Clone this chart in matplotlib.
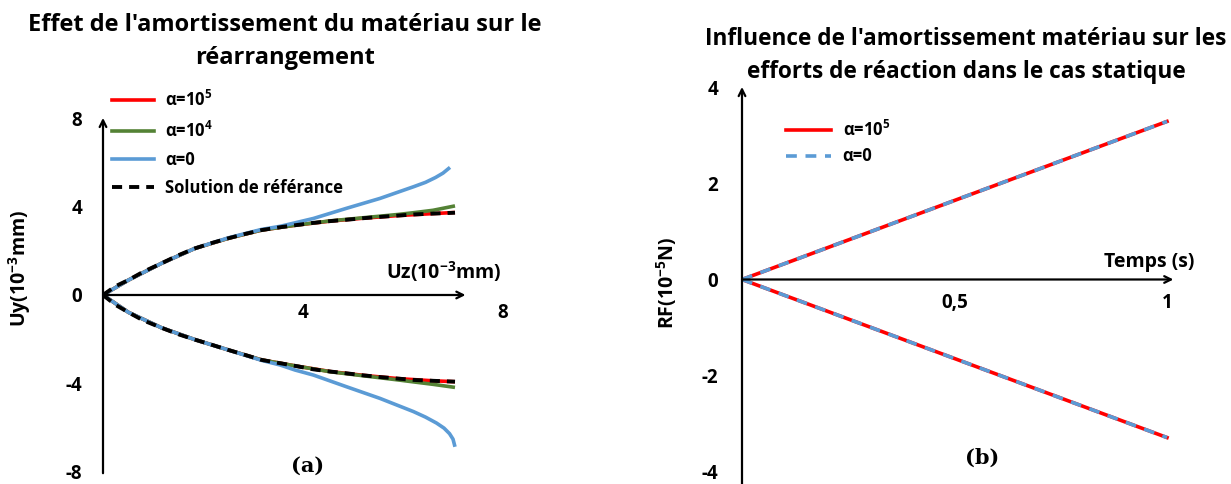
import numpy as np
import matplotlib
matplotlib.use("Agg")
import matplotlib.pyplot as plt
from matplotlib.lines import Line2D

plt.rcParams['font.family'] = ['Open Sans', 'DejaVu Sans']
plt.rcParams['font.weight'] = 'bold'
plt.rcParams['mathtext.default'] = 'regular'

RED = '#FF0000'
GREEN = '#548235'
BLUE = '#5B9BD5'

# --- (a) rearrangement: Uy vs Uz (10^-3 mm) ---
uz_ref = [0, 0.25, 0.51, 0.8, 1.17, 1.5, 1.84, 2.2, 2.51, 2.85, 3.17, 3.54, 3.84, 4.21, 4.55, 4.87, 5.2, 5.54, 5.9, 6.21, 6.6, 7.04]
uy_ref_up = [0, 0.4, 0.68, 1.05, 1.44, 1.8, 2.12, 2.38, 2.58, 2.78, 2.95, 3.08, 3.17, 3.28, 3.36, 3.42, 3.49, 3.55, 3.61, 3.66, 3.7, 3.74]
uy_ref_lo = [0, -0.45, -0.79, -1.15, -1.49, -1.78, -2.03, -2.28, -2.5, -2.73, -2.95, -3.1, -3.22, -3.38, -3.48, -3.56, -3.65, -3.73, -3.8, -3.86, -3.9, -3.94]

uz_e4 = [0, 0.51, 1.17, 1.84, 2.51, 3.17, 3.84, 4.55, 5.2, 5.9, 6.21, 6.6, 7.04]
uy_e4_up = [0, 0.68, 1.44, 2.12, 2.58, 2.95, 3.17, 3.37, 3.51, 3.66, 3.74, 3.85, 4.05]
uy_e4_lo = [0, -0.79, -1.49, -2.03, -2.5, -2.95, -3.22, -3.49, -3.67, -3.86, -3.95, -4.06, -4.2]

uz_e5 = [0, 0.51, 1.17, 1.84, 2.51, 3.17, 3.84, 4.55, 5.2, 5.9, 6.6, 7.04]
uy_e5_up = [0, 0.68, 1.44, 2.12, 2.58, 2.95, 3.17, 3.36, 3.49, 3.61, 3.7, 3.75]
uy_e5_lo = [0, -0.79, -1.49, -2.03, -2.5, -2.95, -3.22, -3.48, -3.65, -3.8, -3.9, -3.94]

uz_e0_up = [0, 0.51, 1.17, 1.84, 2.51, 3.17, 3.54, 3.84, 4.21, 4.87, 5.54, 6.21, 6.45, 6.65, 6.8, 6.94]
uy_e0_up = [0, 0.68, 1.44, 2.12, 2.6, 2.98, 3.12, 3.28, 3.48, 3.94, 4.39, 4.92, 5.12, 5.34, 5.54, 5.8]
uz_e0_lo = [0, 0.51, 1.17, 1.84, 2.51, 3.17, 3.54, 3.84, 4.21, 4.87, 5.54, 6.21, 6.45, 6.67, 6.82, 6.93, 7.0, 7.04]
uy_e0_lo = [0, -0.79, -1.49, -2.03, -2.5, -2.97, -3.18, -3.41, -3.64, -4.17, -4.7, -5.3, -5.55, -5.82, -6.05, -6.3, -6.55, -6.9]

# --- (b) reaction forces: RF (10^-5 N) vs time (s) ---
t = [0, 1.0]
rf_up = [0, 3.3]
rf_lo = [0, -3.3]

fig = plt.figure(figsize=(12.31, 4.84), dpi=100)

# ---------------- panel (a) ----------------
ax1 = fig.add_axes([103/1231, 0.0223, 415/1231, 0.7364])
ax1.set_xlim(0, 8.3)
ax1.set_ylim(-8.1, 8.1)
for s in ax1.spines.values():
    s.set_color('none')
ax1.spines['bottom'].set_position(('data', 0))
ax1.spines['left'].set_position(('data', 0))
arrow = dict(arrowstyle='->', color='black', lw=1.6, shrinkA=0, shrinkB=0, mutation_scale=12)
ax1.annotate('', xy=(7.25, 0), xytext=(0, 0), arrowprops=arrow)
ax1.annotate('', xy=(0, 8.05), xytext=(0, -8.1), arrowprops=arrow, annotation_clip=False)

kw = dict(lw=2.6, solid_capstyle='butt')
ax1.plot(uz_e5, uy_e5_up, color=RED, **kw)
ax1.plot(uz_e5, uy_e5_lo, color=RED, **kw)
ax1.plot(uz_e4, uy_e4_up, color=GREEN, **kw)
ax1.plot(uz_e4, uy_e4_lo, color=GREEN, **kw)
ax1.plot(uz_e0_up, uy_e0_up, color=BLUE, **kw)
ax1.plot(uz_e0_lo, uy_e0_lo, color=BLUE, **kw)
ax1.plot(uz_ref, uy_ref_up, color='black', lw=2.8, dashes=(2.6, 1.8))
ax1.plot(uz_ref, uy_ref_lo, color='black', lw=2.8, dashes=(2.6, 1.8))

ax1.set_xticks([4, 8])
ax1.set_xticklabels(['4', '8'])
ax1.set_yticks([-8, -4, 0, 4, 8])
ax1.set_yticklabels(['-8', '-4', '0', '4', '8'])
ax1.tick_params(axis='both', length=0, labelsize=13.5)
ax1.tick_params(axis='y', pad=15)
ax1.tick_params(axis='x', pad=6)

handles1 = [Line2D([], [], color=RED, lw=2.6),
            Line2D([], [], color=GREEN, lw=2.6),
            Line2D([], [], color=BLUE, lw=2.6),
            Line2D([], [], color='black', lw=2.8, dashes=(2.6, 1.8))]
labels1 = ['α=10$^{5}$', 'α=10$^{4}$', 'α=0', 'Solution de référance']
ax1.legend(handles1, labels1, loc='upper left', bbox_to_anchor=(9/415, 1.075),
           frameon=False, fontsize=12, handlelength=2.5, handletextpad=0.7,
           labelspacing=0.62, borderpad=0, borderaxespad=0)

fig.text(444/1231, 1 - 272/484, 'Uz(10$^{-3}$mm)', ha='center', va='center', fontsize=14)
fig.text(20/1231, 1 - 268/484, 'Uy(10$^{-3}$mm)', ha='center', va='center', fontsize=14, rotation=90)
fig.text(285/1231, 1 - 25/484, "Effet de l'amortissement du matériau sur le", ha='center', va='center', fontsize=17)
fig.text(285/1231, 1 - 58/484, 'réarrangement', ha='center', va='center', fontsize=17)
fig.text(308/1231, 1 - 466/484, '(a)', ha='center', va='center', fontsize=15,
         family=['DejaVu Serif'])

# ---------------- panel (b) ----------------
ax2 = fig.add_axes([742/1231, 0.0, 450.5/1231, 398/484])
ax2.set_xlim(0, 1.06)
ax2.set_ylim(-4.27, 4.04)
for s in ax2.spines.values():
    s.set_color('none')
ax2.spines['bottom'].set_position(('data', 0))
ax2.spines['left'].set_position(('data', 0))
ax2.annotate('', xy=(1.015, 0), xytext=(0, 0), arrowprops=arrow)
ax2.annotate('', xy=(0, 4.02), xytext=(0, -4.27), arrowprops=arrow, annotation_clip=False)

ax2.plot(t, rf_up, color=RED, lw=2.6)
ax2.plot(t, rf_lo, color=RED, lw=2.6)
ax2.plot(t, rf_up, color=BLUE, lw=2.6, dashes=(3.0, 2.4))
ax2.plot(t, rf_lo, color=BLUE, lw=2.6, dashes=(3.0, 2.4))

ax2.set_xticks([0.5, 1])
ax2.set_xticklabels(['0,5', '1'])
ax2.set_yticks([-4, -2, 0, 2, 4])
ax2.set_yticklabels(['-4', '-2', '0', '2', '4'])
ax2.tick_params(axis='both', length=0, labelsize=13.5)
ax2.tick_params(axis='y', pad=17)
ax2.tick_params(axis='x', pad=10)

handles2 = [Line2D([], [], color=RED, lw=2.6),
            Line2D([], [], color=BLUE, lw=2.6, dashes=(3.0, 2.4))]
labels2 = ['α=10$^{5}$', 'α=0']
ax2.legend(handles2, labels2, loc='upper left', bbox_to_anchor=(44/450.5, 0.915),
           frameon=False, fontsize=12, handlelength=2.7, handletextpad=0.7,
           labelspacing=0.45, borderpad=0, borderaxespad=0)

fig.text(1149/1231, 1 - 262/484, 'Temps (s)', ha='center', va='center', fontsize=14)
fig.text(667/1231, 1 - 283/484, 'RF(10$^{-5}$N)', ha='center', va='center', fontsize=14, rotation=90)
fig.text(966/1231, 1 - 39/484, "Influence de l'amortissement matériau sur les", ha='center', va='center', fontsize=16.3)
fig.text(966/1231, 1 - 72/484, 'efforts de réaction dans le cas statique', ha='center', va='center', fontsize=16.3)
fig.text(982/1231, 1 - 458/484, '(b)', ha='center', va='center', fontsize=15,
         family=['DejaVu Serif'])

fig.savefig('out.png', dpi=100)
